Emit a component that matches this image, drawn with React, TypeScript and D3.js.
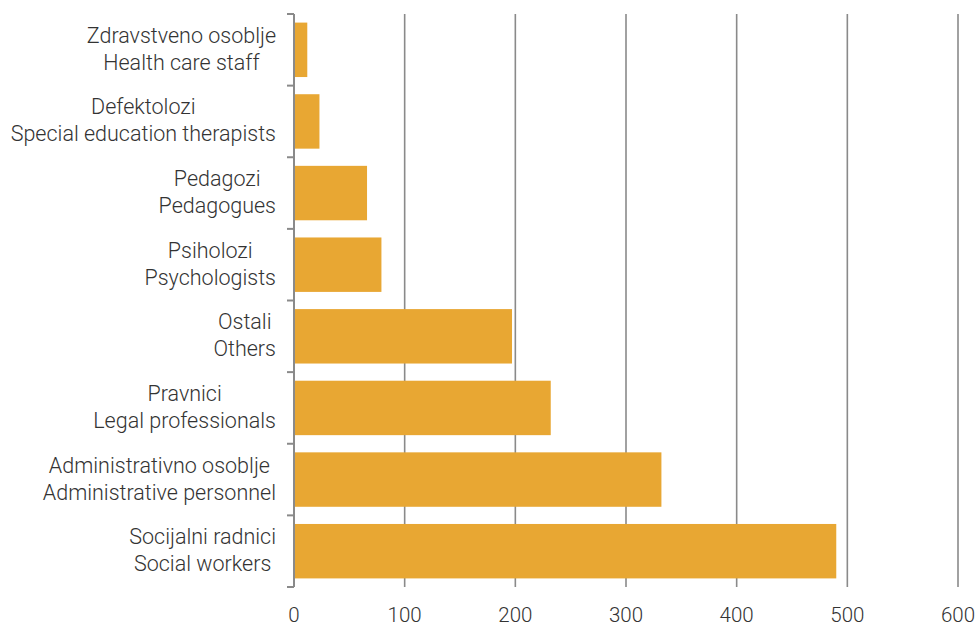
import React, { useEffect, useRef } from "react";
import * as d3 from "d3";

const categoriesLocal = [
  "Zdravstveno osoblje",
  "Defektolozi",
  "Pedagozi",
  "Psiholozi",
  "Ostali",
  "Pravnici",
  "Administrativno osoblje",
  "Socijalni radnici",
];
const categoriesEnglish = [
  "Health care staff",
  "Special education therapists",
  "Pedagogues",
  "Psychologists",
  "Others",
  "Legal professionals",
  "Administrative personnel",
  "Social workers",
];
const values = [12, 23, 66, 79, 197, 232, 332, 490];
const xTicks = [0, 100, 200, 300, 400, 500, 600];

const W = 979;
const H = 628;
const margin = { left: 294, right: 21, top: 14, bottom: 41 };
const FONT = "Roboto, 'Noto Sans', sans-serif";

export default function App() {
  const ref = useRef<SVGSVGElement | null>(null);

  useEffect(() => {
    const svg = d3.select(ref.current);
    svg.selectAll("*").remove();

    const x = d3
      .scaleLinear()
      .domain([0, 600])
      .range([margin.left, W - margin.right]);
    const y = d3
      .scaleBand<number>()
      .domain(d3.range(categoriesLocal.length))
      .range([margin.top, H - margin.bottom])
      .paddingInner(0.24)
      .paddingOuter(0.12);

    const y0 = margin.top;
    const y1 = H - margin.bottom;

    // gridlines
    svg
      .append("g")
      .selectAll("line")
      .data(xTicks.filter((t) => t > 0))
      .join("line")
      .attr("x1", (d) => x(d))
      .attr("x2", (d) => x(d))
      .attr("y1", y0)
      .attr("y2", y1)
      .attr("stroke", "#8a8a8a")
      .attr("stroke-width", 1.6);

    // bars
    svg
      .append("g")
      .selectAll("rect")
      .data(values)
      .join("rect")
      .attr("x", x(0))
      .attr("y", (_, i) => y(i)!)
      .attr("width", (d) => x(d) - x(0))
      .attr("height", y.bandwidth())
      .attr("fill", "#E8A733");

    // y axis line and ticks
    const ax = svg.append("g");
    ax.append("line")
      .attr("x1", x(0))
      .attr("x2", x(0))
      .attr("y1", y0)
      .attr("y2", y1)
      .attr("stroke", "#8a8a8a")
      .attr("stroke-width", 2);
    const step = (y1 - y0) / categoriesLocal.length;
    ax.selectAll("line.tick")
      .data(d3.range(categoriesLocal.length + 1))
      .join("line")
      .attr("class", "tick")
      .attr("x1", x(0) - 7)
      .attr("x2", x(0))
      .attr("y1", (d) => y0 + d * step)
      .attr("y2", (d) => y0 + d * step)
      .attr("stroke", "#8a8a8a")
      .attr("stroke-width", 2);

    // x tick labels
    svg
      .append("g")
      .selectAll("text")
      .data(xTicks)
      .join("text")
      .attr("x", (d) => x(d))
      .attr("y", 622)
      .attr("text-anchor", "middle")
      .attr("font-family", FONT)
      .attr("font-weight", 300)
      .attr("font-size", 20.5)
      .attr("fill", "#333")
      .text((d) => String(d));

    // category labels (two lines, centered block right-aligned)
    const right = 276;
    const lg = svg.append("g");
    categoriesLocal.forEach((c, i) => {
      const cy = y0 + (i + 0.5) * step;
      const g = lg.append("g");
      const t1 = g
        .append("text")
        .attr("y", cy - 7)
        .attr("text-anchor", "middle")
        .attr("font-family", FONT)
        .attr("font-weight", 300)
        .attr("font-size", 21.5)
        .attr("fill", "#333")
        .text(c);
      const t2 = g
        .append("text")
        .attr("y", cy + 20)
        .attr("text-anchor", "middle")
        .attr("font-family", FONT)
        .attr("font-weight", 300)
        .attr("font-size", 21.5)
        .attr("fill", "#333")
        .text(categoriesEnglish[i]);
      const w = Math.max(
        (t1.node() as SVGTextElement).getComputedTextLength(),
        (t2.node() as SVGTextElement).getComputedTextLength()
      );
      t1.attr("x", right - w / 2);
      t2.attr("x", right - w / 2);
    });
  }, []);

  return (
    <svg
      ref={ref}
      width={W}
      height={H}
      style={{ position: "absolute", left: 0, top: 0, background: "#fff" }}
    />
  );
}
